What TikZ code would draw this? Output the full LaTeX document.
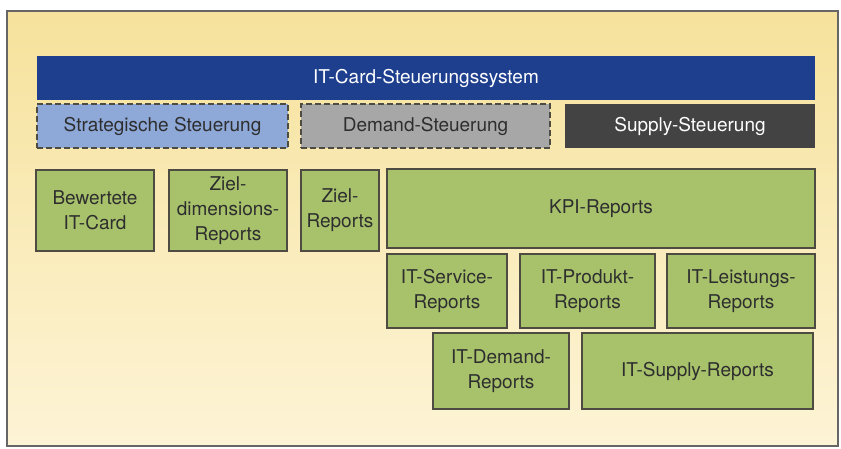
\documentclass[tikz,border=0pt]{standalone}
\usepackage{fontspec}
\setmainfont{TeX Gyre Heros}
\definecolor{bgtop}{HTML}{F6E29C}
\definecolor{bgbot}{HTML}{FDF4D6}
\definecolor{barblue}{HTML}{1E3E8E}
\definecolor{stratblue}{HTML}{8EA8D8}
\definecolor{demgray}{HTML}{A7A7A7}
\definecolor{supgray}{HTML}{434343}
\definecolor{boxgreen}{HTML}{A8C26C}
\definecolor{boxline}{HTML}{4E4C42}
\definecolor{txt}{HTML}{2E2E2E}
\tikzset{
  base/.style={inner sep=0pt, align=center, font=\fontsize{19}{25}\selectfont, text=txt},
  greenbox/.style={base, fill=boxgreen, draw=boxline, line width=1.3pt},
  dashbox/.style={base, draw=boxline, line width=1.1pt, dash pattern=on 6pt off 3pt},
}
\begin{document}
\begin{tikzpicture}[x=1pt,y=-1pt]
\useasboundingbox (0,0) rectangle (841,448);
\fill[white] (0,0) rectangle (841,448);
\shade[top color=bgtop, bottom color=bgbot] (7,11) rectangle (838,446);
\draw[draw=gray!80!black, line width=1.2pt] (7,11) rectangle (838,446);

\node[base, fill=barblue, text=white, minimum width=778pt, minimum height=44pt] (bar) at (426,78) {IT-Card-Steuerungssystem};
\node[dashbox, fill=stratblue, minimum width=251pt, minimum height=44pt] (strat) at (162.5,126) {Strategische Steuerung};
\node[dashbox, fill=demgray, minimum width=249pt, minimum height=44pt] (dem) at (425.5,126) {Demand-Steuerung};
\node[base, fill=supgray, text=white, minimum width=250pt, minimum height=44pt] (sup) at (690,126) {Supply-Steuerung};

\node[greenbox, minimum width=118pt, minimum height=81pt] (bew) at (95,210.5) {Bewertete\\IT-Card};
\node[greenbox, minimum width=118pt, minimum height=81pt] (zield) at (228,210.5) {Ziel-\\dimensions-\\Reports};
\node[greenbox, minimum width=78pt, minimum height=81pt] (zielr) at (340,210.5) {Ziel-\\Reports};
\node[greenbox, minimum width=428pt, minimum height=79pt] (kpi) at (601,208.5) {KPI-Reports};

\node[greenbox, minimum width=120pt, minimum height=74pt] (serv) at (447,291) {IT-Service-\\Reports};
\node[greenbox, minimum width=135pt, minimum height=74pt] (prod) at (587.5,291) {IT-Produkt-\\Reports};
\node[greenbox, minimum width=148pt, minimum height=74pt] (leist) at (741,291) {IT-Leistungs-\\Reports};

\node[greenbox, minimum width=136pt, minimum height=76pt] (idem) at (501,371) {IT-Demand-\\Reports};
\node[greenbox, minimum width=231pt, minimum height=76pt] (isup) at (697.5,371) {IT-Supply-Reports};
\end{tikzpicture}
\end{document}
